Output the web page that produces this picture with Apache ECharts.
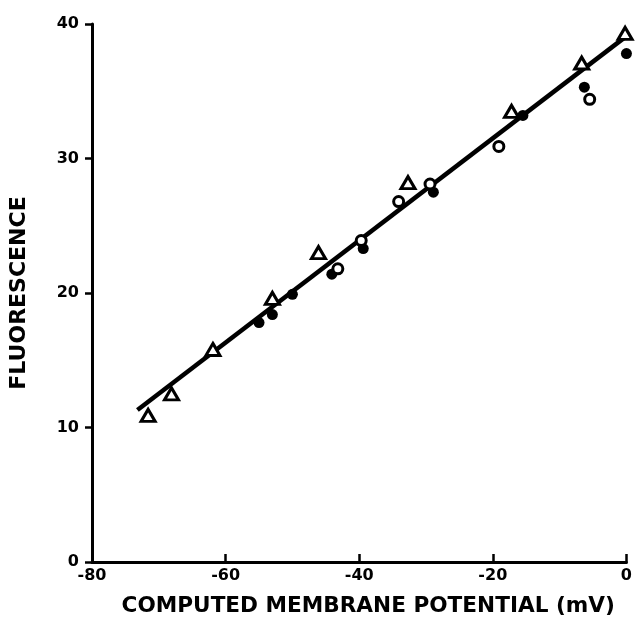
<!DOCTYPE html>
<html>
<head>
<meta charset="utf-8">
<script src="https://cdn.jsdelivr.net/npm/echarts@6/dist/echarts.min.js"></script>
<style>html,body{margin:0;padding:0;background:#fff}#c{width:635px;height:623px}</style>
</head>
<body>
<div id="c"></div>
<script>
var xTicks = [-80, -60, -40, -20, 0];
var yTicks = [0, 10, 20, 30, 40];
var triX = [-71.6, -68.1, -61.9, -53.0, -46.1, -32.7, -17.2, -6.7, -0.2];
var triY = [10.9, 12.5, 15.8, 19.6, 23.0, 28.2, 33.5, 37.1, 39.3];
var openX = [-43.2, -39.7, -34.1, -29.4, -19.1, -5.5];
var openY = [21.8, 23.9, 26.8, 28.1, 30.9, 34.4];
var filledX = [-55.0, -53.0, -50.0, -44.1, -39.4, -28.9, -15.5, -6.3, 0.0];
var filledY = [17.8, 18.4, 19.9, 21.4, 23.3, 27.5, 33.2, 35.3, 37.8];
var lineX = [-73.2, 0.0];
var lineY = [11.3, 39.1];

function pairs(xs, ys) { return xs.map(function (x, i) { return [x, ys[i]]; }); }

var FONT = 'DejaVu Sans';
var chart = echarts.init(document.getElementById('c'));
chart.setOption({
  animation: false,
  backgroundColor: '#fff',
  grid: { left: 87, right: 7, top: 24, bottom: 61 },
  xAxis: {
    type: 'value', min: -80, max: 0, interval: 20,
    name: 'COMPUTED MEMBRANE POTENTIAL (mV)', nameLocation: 'middle', nameGap: 33,
    nameTextStyle: { fontFamily: FONT, fontWeight: 'bold', fontSize: 21.6, color: '#000',
      padding: [0, 0, 0, 18], verticalAlign: 'top' },
    axisLine: { onZero: false, lineStyle: { color: '#000', width: 3 } },
    axisTick: { inside: true, length: 8, lineStyle: { color: '#000', width: 2.5 } },
    axisLabel: { fontFamily: FONT, fontWeight: 'bold', fontSize: 16, color: '#000', margin: 6,
      formatter: function (v) { return xTicks.indexOf(v) >= 0 ? String(v) : ''; } },
    splitLine: { show: false }
  },
  yAxis: {
    type: 'value', min: 0, max: 40, interval: 10,
    name: 'FLUORESCENCE', nameLocation: 'middle', nameGap: 62, nameRotate: 90,
    nameTextStyle: { fontFamily: FONT, fontWeight: 'bold', fontSize: 22, color: '#000' },
    axisLine: { onZero: false, lineStyle: { color: '#000', width: 3 } },
    axisTick: { inside: false, length: 7, lineStyle: { color: '#000', width: 2.5 } },
    axisLabel: { fontFamily: FONT, fontWeight: 'bold', fontSize: 16, color: '#000', margin: 13,
      formatter: function (v) { return yTicks.indexOf(v) >= 0 ? String(v) : ''; } },
    splitLine: { show: false }
  },
  series: [
    { type: 'line', data: pairs(lineX, lineY), showSymbol: false, symbol: 'none',
      lineStyle: { color: '#000', width: 4.5 }, z: 2 },
    { type: 'scatter', data: pairs(filledX, filledY), symbol: 'circle', symbolSize: 11,
      itemStyle: { color: '#000', opacity: 1 }, z: 3 },
    { type: 'scatter', data: pairs(openX, openY), symbol: 'circle', symbolSize: 10,
      itemStyle: { color: '#fff', borderColor: '#000', borderWidth: 3, opacity: 1 }, z: 4 },
    { type: 'scatter', data: pairs(triX, triY), symbol: 'triangle', symbolSize: [14, 12],
      itemStyle: { color: '#fff', borderColor: '#000', borderWidth: 3, opacity: 1 }, z: 5 }
  ]
});
</script>
</body>
</html>
